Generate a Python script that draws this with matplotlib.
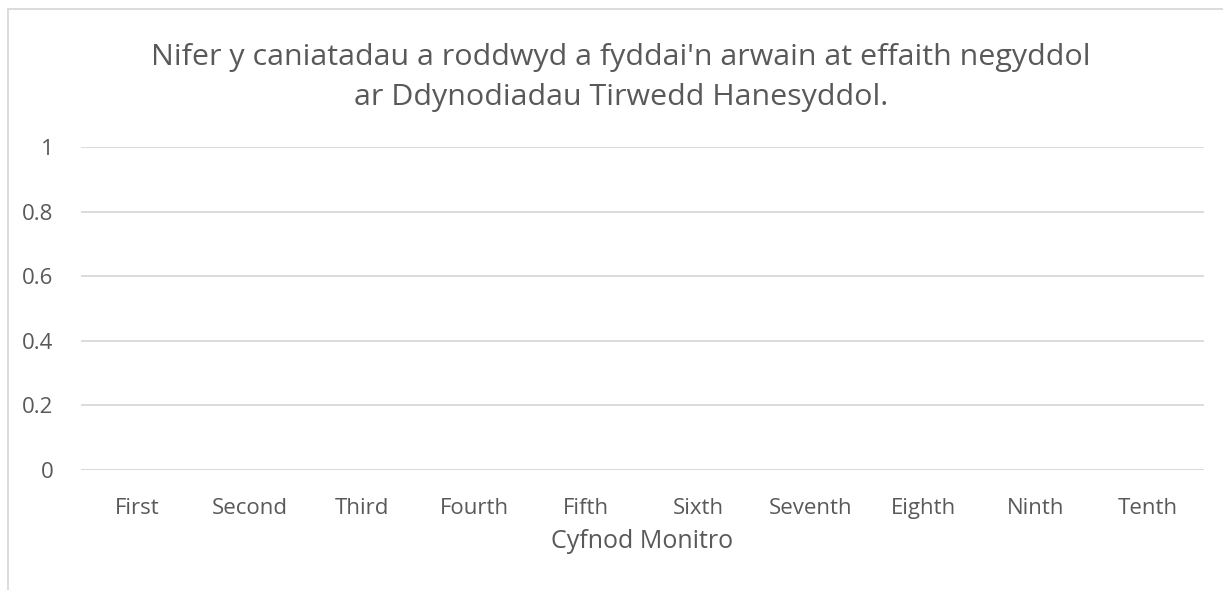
import matplotlib.pyplot as plt
from matplotlib.patches import Rectangle

# Data
periods = ['First', 'Second', 'Third', 'Fourth', 'Fifth',
           'Sixth', 'Seventh', 'Eighth', 'Ninth', 'Tenth']
permits = [0, 0, 0, 0, 0, 0, 0, 0, 0, 0]
y_ticks = [0, 0.2, 0.4, 0.6, 0.8, 1]
y_labels = ['0', '0.2', '0.4', '0.6', '0.8', '1']

title = ("Nifer y caniatadau a roddwyd a fyddai'n arwain at effaith negyddol\n"
         "ar Ddynodiadau Tirwedd Hanesyddol.")
x_label = 'Cyfnod Monitro'

plt.rcParams['font.family'] = ['Open Sans', 'DejaVu Sans']
text_col = '#595959'
grid_col = '#d9d9d9'

W, H = 1223, 590
fig = plt.figure(figsize=(W / 100, H / 100), dpi=100)

# outer chart border (only left/top visible in the crop)
fig.patches.append(Rectangle((8 / W, -0.1), 1.2, 1 - 9 / H + 0.1,
                             transform=fig.transFigure, fill=False,
                             edgecolor=grid_col, linewidth=1.3))

# plot area: x 81..1204, y 147..470 (pixels from top)
ax = fig.add_axes([81 / W, 1 - 470 / H, (1204 - 81) / W, (470 - 147) / H])
ax.bar(range(len(periods)), permits, width=0.6, color='#4472c4')
ax.set_xlim(-0.5, len(periods) - 0.5)
ax.set_ylim(0, 1)
ax.set_yticks(y_ticks)
ax.set_yticklabels(y_labels)
ax.set_xticks(range(len(periods)))
ax.set_xticklabels(periods)
ax.tick_params(axis='both', length=0, labelsize=16, colors=text_col)
ax.tick_params(axis='y', pad=20)
ax.tick_params(axis='x', pad=20)
ax.grid(axis='y', color=grid_col, linewidth=1.3)
ax.set_axisbelow(True)
for s in ax.spines.values():
    s.set_visible(False)
ax.axhline(0, color=grid_col, linewidth=1.3)

ax.set_xlabel(x_label, fontsize=18, color=text_col, labelpad=7)
fig.text(621 / W, 1 - 77 / H, title, ha='center', va='center',
         fontsize=21.9, color=text_col, linespacing=1.5)

fig.savefig('out.png', dpi=100)
